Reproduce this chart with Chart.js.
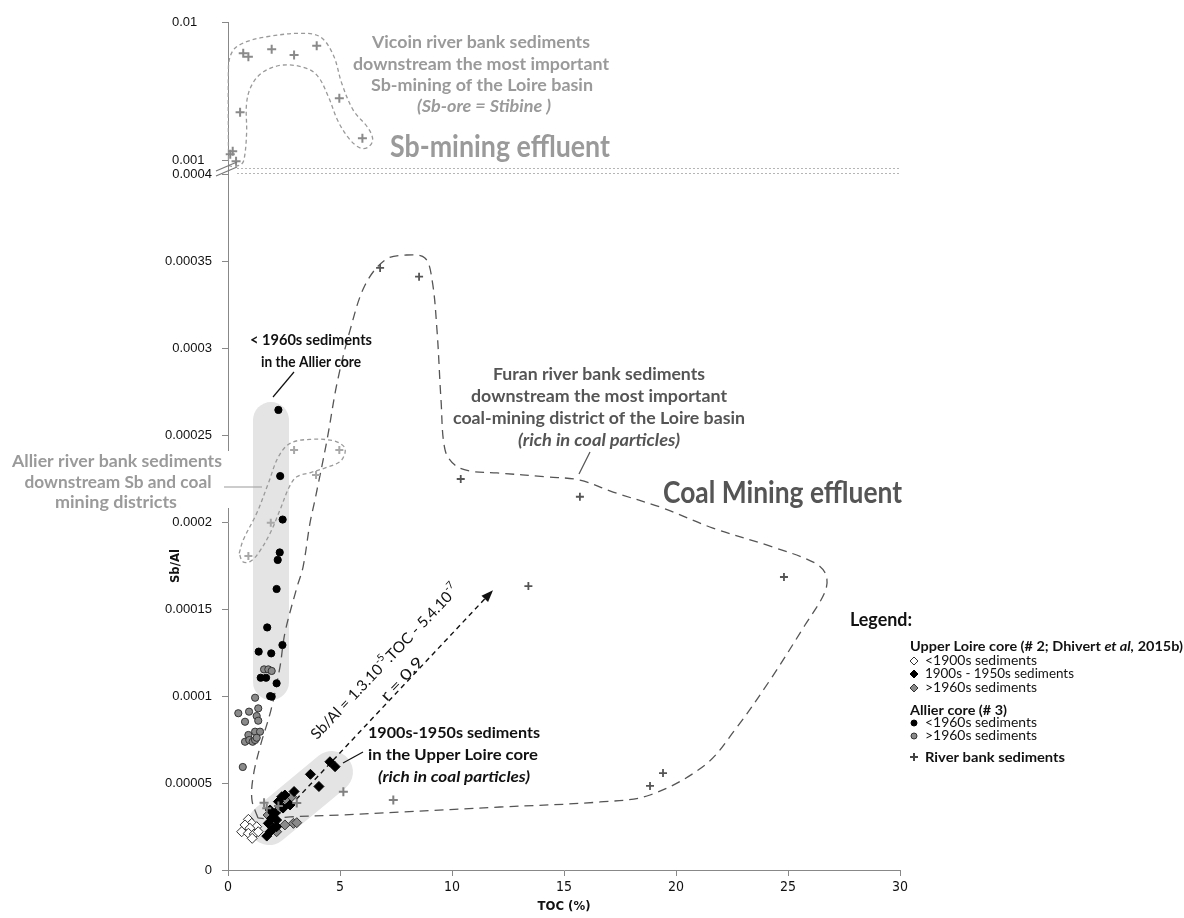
<!DOCTYPE html>
<html lang="en">
<head>
<meta charset="UTF-8">
<title>Sb/Al vs TOC</title>
<script src="https://cdn.jsdelivr.net/npm/chart.js@4.4.1/dist/chart.umd.min.js"></script>
<style>
  * { box-sizing: border-box; margin: 0; padding: 0; }
  html, body { width: 1184px; height: 918px; overflow: hidden; background: #fff; }
</style>
</head>
<body>
<canvas id="chart" width="1184" height="918"></canvas>
<script>
// ticks
const xTicks = [0, 5, 10, 15, 20, 25, 30];
const yLowTicks = [0, 0.00005, 0.0001, 0.00015, 0.0002, 0.00025, 0.0003, 0.00035, 0.0004];
const yTopTicks = [0.001, 0.01];

// Upper Loire core (# 2) - [TOC %, Sb/Al]
const loirePre1900 = [[0.91,2.91e-5],[1.06,2.68e-5],[0.76,2.59e-5],[1.28,2.49e-5],[0.98,2.40e-5],[0.61,2.20e-5],[0.91,2.11e-5],[1.17,2.07e-5],[1.35,2.20e-5],[1.08,1.82e-5]];
const loire1900to1950 = [[4.55,6.22e-5],[4.78,5.94e-5],[3.68,5.50e-5],[4.06,4.80e-5],[2.95,4.51e-5],[2.54,4.31e-5],[2.40,4.21e-5],[2.25,3.93e-5],[2.77,3.74e-5],[2.46,3.56e-5],[1.88,3.45e-5],[2.10,3.26e-5],[1.95,2.97e-5],[2.17,2.87e-5],[1.80,2.68e-5],[2.17,2.49e-5],[2.02,2.40e-5],[1.88,2.20e-5],[1.73,1.95e-5]];
const loirePost1960 = [[2.62,4.02e-5],[2.84,4.21e-5],[2.32,3.55e-5],[1.95,3.16e-5],[1.79,3.16e-5],[2.05,2.87e-5],[2.54,2.59e-5],[2.92,2.68e-5],[3.07,2.72e-5],[2.17,2.20e-5]];

// Allier core (# 3)
const allierPre1960 = [[2.25,2.644e-4],[2.33,2.264e-4],[2.44,2.014e-4],[2.31,1.825e-4],[2.22,1.782e-4],[2.17,1.615e-4],[1.75,1.394e-4],[2.43,1.293e-4],[1.37,1.255e-4],[1.93,1.245e-4],[1.46,1.105e-4],[1.70,1.105e-4],[2.17,1.073e-4],[1.88,0.999e-4],[1.95,0.996e-4]];
const allierPost1960 = [[1.61,1.153e-4],[1.80,1.153e-4],[1.95,1.144e-4],[1.21,0.990e-4],[0.46,0.901e-4],[0.94,0.910e-4],[1.35,0.929e-4],[0.76,0.852e-4],[1.28,0.885e-4],[1.35,0.858e-4],[1.21,0.795e-4],[1.43,0.795e-4],[0.91,0.776e-4],[0.76,0.737e-4],[0.95,0.747e-4],[1.10,0.737e-4],[1.21,0.747e-4],[1.28,0.760e-4],[0.66,0.592e-4]];

// river bank sediments
const bankFuran = [[6.79,3.46e-4],[8.53,3.41e-4],[10.39,2.247e-4],[15.71,2.145e-4],[24.82,1.684e-4],[13.41,1.632e-4],[19.42,5.57e-5],[18.84,4.83e-5]];
const bankLoire = [[1.61,3.86e-5],[1.73,3.55e-5],[2.25,3.68e-5],[3.07,3.85e-5],[5.15,4.50e-5],[7.38,4.02e-5]];
const bankAllier = [[2.95,2.414e-4],[4.97,2.414e-4],[3.93,2.270e-4],[1.91,1.996e-4],[0.91,1.805e-4]];
const bankVicoin = [[0.68,5.93e-3],[0.91,5.61e-3],[1.95,6.34e-3],[2.95,5.77e-3],[3.96,6.73e-3],[0.54,2.22e-3],[4.97,2.80e-3],[6.0,1.44e-3],[0.21,1.16e-3],[0.10,1.10e-3],[0.36,0.98e-3]];

// hand-drawn envelopes (data units)
const envVicoin = [[0.02,1.00e-3],[0.02,4.74e-3],[0.24,6.27e-3],[0.83,7.2e-3],[1.73,7.82e-3],[3.21,8.28e-3],[4.11,7.82e-3],[4.70,5.77e-3],[5.08,3.59e-3],[5.59,2.30e-3],[6.26,1.70e-3],[6.46,1.40e-3],[6.26,1.24e-3],[5.92,1.22e-3],[5.45,1.40e-3],[4.92,1.90e-3],[4.48,2.88e-3],[4.03,4.01e-3],[3.51,4.62e-3],[2.47,4.88e-3],[1.58,4.36e-3],[1.06,3.49e-3],[0.83,2.58e-3],[0.83,1.56e-3],[0.71,1.0e-3],[0.54,0.92e-3],[0.09,0.905e-3],[0.02,1.00e-3]];
const envAllier = [[0.50,1.820e-4],[0.68,1.897e-4],[1.28,2.050e-4],[1.80,2.222e-4],[2.25,2.375e-4],[2.77,2.452e-4],[3.66,2.475e-4],[4.70,2.467e-4],[5.18,2.433e-4],[5.22,2.395e-4],[5.00,2.347e-4],[4.41,2.314e-4],[3.66,2.283e-4],[3.07,2.260e-4],[2.74,2.203e-4],[2.32,2.069e-4],[1.88,1.935e-4],[1.35,1.820e-4],[0.98,1.772e-4],[0.66,1.772e-4],[0.50,1.820e-4]];
const envCoal = [[1.34,2.99e-5],[1.07,4.02e-5],[1.12,5.34e-5],[1.43,7.07e-5],[1.92,9.20e-5],[2.32,1.167e-4],[2.54,1.362e-4],[3.08,1.626e-4],[3.35,1.741e-4],[3.66,1.994e-4],[3.88,2.126e-4],[4.42,2.471e-4],[4.87,2.799e-4],[5.45,3.103e-4],[6.12,3.362e-4],[7.01,3.506e-4],[7.90,3.534e-4],[8.79,3.517e-4],[9.11,3.391e-4],[9.33,3.103e-4],[9.51,2.701e-4],[9.69,2.414e-4],[10.13,2.327e-4],[10.80,2.293e-4],[12.01,2.282e-4],[14.24,2.259e-4],[15.71,2.241e-4],[17.19,2.172e-4],[19.42,2.080e-4],[21.65,1.965e-4],[24.33,1.856e-4],[26.21,1.764e-4],[26.70,1.695e-4],[26.65,1.598e-4],[25.76,1.408e-4],[24.20,1.092e-4],[22.63,0.805e-4],[21.29,0.603e-4],[18.84,0.431e-4],[16.61,0.391e-4],[12.14,0.362e-4],[7.68,0.333e-4],[5.00,0.316e-4],[2.77,0.305e-4],[1.88,0.293e-4],[1.34,2.99e-5]];

// regression arrow and shaded groups
const regression = [[2.77,3.68e-5],[11.77,1.60e-4]];
const shadeAllier = [[1.92,2.586e-4],[1.92,1.08e-4]];
const shadeLoire = [[1.83,2.64e-5],[4.64,5.63e-5]];

const pts = a => a.map(([x, y]) => ({ x, y }));
const ANN = 'Lato, "Open Sans", sans-serif';
const NARROW = '"Liberation Sans Narrow", "DejaVu Sans Condensed", "Liberation Sans", sans-serif';
const TICKFONT = '"Liberation Sans", Arial, sans-serif';

function richText(ctx, segs, x, y, w, align, color, angle) {
  ctx.save();
  let nat = 0;
  segs.forEach(s => { ctx.font = s.f; s.w = ctx.measureText(s.t).width; nat += s.w; });
  const k = w ? w / nat : 1;
  ctx.translate(x, y);
  if (angle) ctx.rotate(angle);
  ctx.scale(k, 1);
  let x0 = align === 'left' ? 0 : -nat / 2;
  ctx.textBaseline = 'middle';
  ctx.textAlign = 'left';
  ctx.fillStyle = color;
  segs.forEach(s => { ctx.font = s.f; ctx.fillText(s.t, x0, s.dy || 0); x0 += s.w; });
  ctx.restore();
}
const B = sz => `bold ${sz}px ${ANN}`;
const BI = sz => `italic bold ${sz}px ${ANN}`;
const R = sz => `${sz}px ${ANN}`;

// annotation texts: [segments, x, y, width, align, colour]
const labels = [
  [[{t:'Vicoin river bank sediments', f:B(17)}], 481, 43, 218, 'c', '#9a9a9a'],
  [[{t:'downstream the most important', f:B(17)}], 481, 65, 256, 'c', '#9a9a9a'],
  [[{t:'Sb-mining of the Loire basin', f:B(17)}], 482, 86, 222, 'c', '#9a9a9a'],
  [[{t:'(Sb-ore = Stibine )', f:BI(17)}], 484, 107, 134, 'c', '#9a9a9a'],
  [[{t:'Sb-mining effluent', f:B(30)}], 500, 147, 220, 'c', '#9a9a9a'],
  [[{t:'Furan river bank sediments', f:B(17)}], 599, 375, 212, 'c', '#555'],
  [[{t:'downstream the most important', f:B(17)}], 599, 397, 256, 'c', '#555'],
  [[{t:'coal-mining district of the Loire basin', f:B(17)}], 599, 419, 292, 'c', '#555'],
  [[{t:'(rich in coal particles)', f:BI(17)}], 599, 441, 162, 'c', '#555'],
  [[{t:'Coal Mining effluent', f:B(30)}], 663, 493, 239, 'left', '#555'],
  [[{t:'Allier river bank sediments', f:B(17)}], 117, 462, 210, 'c', '#9a9a9a'],
  [[{t:'downstream Sb and coal', f:B(17)}], 118, 483, 187, 'c', '#9a9a9a'],
  [[{t:'mining districts', f:B(17)}], 116, 503, 122, 'c', '#9a9a9a'],
  [[{t:'< 1960s sediments', f:B(16)}], 311, 340, 122, 'c', '#111'],
  [[{t:'in the Allier core', f:B(16)}], 311, 362, 100, 'c', '#111'],
  [[{t:'1900s-1950s sediments', f:B(16)}], 454, 733, 172, 'c', '#111'],
  [[{t:'in the Upper Loire core', f:B(16)}], 453, 755, 170, 'c', '#111'],
  [[{t:'(rich in coal particles)', f:BI(16)}], 454, 777, 152, 'c', '#111'],
  // legend
  [[{t:'Legend:', f:B(18)}], 850, 620, 62, 'left', '#111'],
  [[{t:'Upper Loire core (# 2; Dhivert ', f:B(14)}, {t:'et al,', f:BI(14)}, {t:' 2015b)', f:B(14)}], 910, 646, 273, 'left', '#111'],
  [[{t:'<1900s sediments', f:R(13)}], 925, 661, 112, 'left', '#111'],
  [[{t:'1900s - 1950s sediments', f:R(13)}], 925, 674, 149, 'left', '#111'],
  [[{t:'>1960s sediments', f:R(13)}], 925, 688, 112, 'left', '#111'],
  [[{t:'Allier core (# 3)', f:B(14)}], 910, 710, 97, 'left', '#111'],
  [[{t:'<1960s sediments', f:R(13)}], 925, 723, 112, 'left', '#111'],
  [[{t:'>1960s sediments', f:R(13)}], 925, 736, 112, 'left', '#111'],
  [[{t:'River bank sediments', f:B(14)}], 925, 757, 140, 'left', '#111']
];

// legend markers: [style, fill, stroke, radius, x, y]
const legendMarks = [
  ['rectRot', '#fff', '#333', 4, 914, 661],
  ['rectRot', '#000', '#000', 4, 914, 674],
  ['rectRot', '#8a8a8a', '#333', 4, 914, 688],
  ['circle', '#000', '#000', 3, 914, 723],
  ['circle', '#8a8a8a', '#333', 3, 914, 736],
  ['cross', '#444', '#444', 4, 914, 757]
];

const decor = {
  id: 'decor',
  beforeDatasetsDraw(chart) {
    const { ctx, scales } = chart;
    const capsule = (seg, width) => {
      ctx.save();
      ctx.strokeStyle = '#e4e4e4';
      ctx.lineWidth = width;
      ctx.lineCap = 'round';
      ctx.beginPath();
      ctx.moveTo(scales.x.getPixelForValue(seg[0][0]), scales.y.getPixelForValue(seg[0][1]));
      ctx.lineTo(scales.x.getPixelForValue(seg[1][0]), scales.y.getPixelForValue(seg[1][1]));
      ctx.stroke();
      ctx.restore();
    };
    capsule(shadeAllier, 36);
    capsule(shadeLoire, 42);
  },
  afterDatasetsDraw(chart) {
    const { ctx, scales, chartArea } = chart;
    const yb = scales.y.top;
    const ax = chartArea.left;

    // labels of the log part, left aligned like the original
    ctx.save();
    ctx.font = `13px ${TICKFONT}`;
    ctx.fillStyle = '#111';
    ctx.textAlign = 'left';
    ctx.textBaseline = 'middle';
    yTopTicks.forEach(v => ctx.fillText(String(v), 172, scales.yTop.getPixelForValue(v)));
    ctx.restore();

    // arrow head of the regression
    const p0 = { x: scales.x.getPixelForValue(regression[0][0]), y: scales.y.getPixelForValue(regression[0][1]) };
    const p1 = { x: scales.x.getPixelForValue(regression[1][0]), y: scales.y.getPixelForValue(regression[1][1]) };
    const a = Math.atan2(p1.y - p0.y, p1.x - p0.x);
    ctx.save();
    ctx.translate(p1.x, p1.y);
    ctx.rotate(a);
    ctx.fillStyle = '#111';
    ctx.beginPath();
    ctx.moveTo(2, 0); ctx.lineTo(-10, -4.5); ctx.lineTo(-10, 4.5); ctx.closePath();
    ctx.fill();
    ctx.restore();

    // axis break: double dotted line + slashes
    ctx.save();
    ctx.strokeStyle = '#b5b5b5';
    ctx.lineWidth = 1;
    ctx.setLineDash([2, 2]);
    [yb - 6, yb - 1].forEach(y => {
      ctx.beginPath(); ctx.moveTo(ax + 9, y + 0.5); ctx.lineTo(chartArea.right, y + 0.5); ctx.stroke();
    });
    ctx.setLineDash([]);
    ctx.strokeStyle = '#777';
    ctx.lineWidth = 1.2;
    [[yb - 3, yb - 12], [yb + 2, yb - 7]].forEach(([y1, y2]) => {
      ctx.beginPath(); ctx.moveTo(ax - 12, y1); ctx.lineTo(ax + 9, y2); ctx.stroke();
    });
    // white box behind the Allier bank label
    ctx.fillStyle = '#fff';
    ctx.fillRect(ax - 4, 451, 8, 57);
    ctx.restore();

    // leader lines
    const lead = (x1, y1, x2, y2, c) => {
      ctx.save(); ctx.strokeStyle = c; ctx.lineWidth = 1.2;
      ctx.beginPath(); ctx.moveTo(x1, y1); ctx.lineTo(x2, y2); ctx.stroke(); ctx.restore();
    };
    lead(273, 397, 294, 372, '#111');
    lead(224, 487, 262, 487, '#9a9a9a');
    lead(590, 452, 579, 474, '#555');
    lead(343, 763, 363, 752, '#111');

    labels.forEach(([segs, x, y, w, al, c]) => richText(ctx, segs, x, y, w, al, c));

    // regression equation, rotated
    const ang = -46.3 * Math.PI / 180;
    richText(ctx, [
      {t:'Sb/Al = 1.3.10', f:R(15)}, {t:'-5', f:R(10), dy:-6},
      {t:'.TOC - 5.4.10', f:R(15)}, {t:'-7', f:R(10), dy:-6}
    ], 385, 662, 207, 'c', '#111', ang);
    richText(ctx, [{t:'r = 0.9', f:R(15)}], 402, 679, 54, 'c', '#111', ang);

    // axis titles
    richText(ctx, [{t:'TOC (%)', f:`bold 13px ${NARROW}`}], (chartArea.left + chartArea.right) / 2, 907, 0, 'c', '#111');
    richText(ctx, [{t:'Sb/Al', f:`bold 13px ${NARROW}`}], 176, 566, 0, 'c', '#111', -Math.PI / 2);

    // legend markers
    legendMarks.forEach(([style, fill, stroke, r, x, y]) => {
      ctx.save();
      ctx.fillStyle = fill; ctx.strokeStyle = stroke;
      ctx.lineWidth = style === 'cross' ? 2 : 1;
      Chart.helpers.drawPoint(ctx, { pointStyle: style, radius: r, rotation: 0, borderWidth: ctx.lineWidth }, x, y);
      ctx.restore();
    });
  }
};

const envelope = (data, color, dash, axis, order) => ({
  data: pts(data), yAxisID: axis, showLine: true, borderColor: color, borderWidth: 1.3,
  borderDash: dash, tension: 0.35, pointRadius: 0, fill: false, clip: false, order
});
const marks = (data, style, fill, stroke, r, bw, axis, order) => ({
  data: pts(data), yAxisID: axis, pointStyle: style, pointRadius: r, backgroundColor: fill,
  borderColor: stroke, pointBorderWidth: bw, borderWidth: bw, showLine: false, clip: false, order
});

new Chart(document.getElementById('chart'), {
  type: 'scatter',
  data: {
    datasets: [
      envelope(envVicoin, '#9a9a9a', [4, 3], 'yTop', 20),
      envelope(envAllier, '#9a9a9a', [4, 3], 'y', 20),
      envelope(envCoal, '#555', [9, 6], 'y', 20),
      { data: pts(regression), yAxisID: 'y', showLine: true, borderColor: '#111', borderWidth: 1.4,
        borderDash: [5, 4], pointRadius: 0, fill: false, order: 15 },
      marks(bankVicoin, 'cross', '#8a8a8a', '#8a8a8a', 4.5, 2, 'yTop', 5),
      marks(bankAllier, 'cross', '#a8a8a8', '#a8a8a8', 4, 2, 'y', 5),
      marks(bankFuran, 'cross', '#555', '#555', 4, 1.8, 'y', 5),
      marks(allierPost1960, 'circle', '#8a8a8a', '#333', 3.6, 1, 'y', 4),
      marks(allierPre1960, 'circle', '#000', '#000', 3.6, 1, 'y', 3),
      marks(loirePre1900, 'rectRot', '#fff', '#333', 5, 1, 'y', 2),
      marks(loirePost1960, 'rectRot', '#8a8a8a', '#333', 5, 1, 'y', 2),
      marks(loire1900to1950, 'rectRot', '#000', '#000', 5, 1, 'y', 1),
      marks(bankLoire, 'cross', '#808080', '#808080', 4.5, 2, 'y', 0)
    ]
  },
  options: {
    responsive: false,
    animation: false,
    events: [],
    layout: { padding: { left: 140, right: 284, top: 22, bottom: 0 } },
    plugins: { legend: { display: false }, tooltip: { enabled: false } },
    scales: {
      x: {
        type: 'linear', min: 0, max: 30,
        afterBuildTicks: s => { s.ticks = xTicks.map(value => ({ value })); },
        afterFit: s => { s.height = 48; },
        ticks: { color: '#111', padding: 3, font: { family: NARROW, size: 14 } },
        grid: { drawOnChartArea: false, tickLength: 6, color: '#888' },
        border: { color: '#888', width: 1 }
      },
      y: {
        type: 'linear', position: 'left', stack: 'sb', stackWeight: 696,
        min: 0, max: 0.0004,
        afterBuildTicks: s => { s.ticks = yLowTicks.map(value => ({ value })); },
        afterFit: s => { s.width = 88; },
        ticks: { color: '#111', padding: 10, font: { family: TICKFONT, size: 13 },
          callback: v => v === 0 ? '0' : String(+v.toFixed(5)) },
        grid: { drawOnChartArea: false, tickLength: 6, color: '#888' },
        border: { color: '#888', width: 1 }
      },
      yTop: {
        type: 'logarithmic', position: 'left', stack: 'sb', stackWeight: 152,
        min: 0.000792, max: 0.01,
        afterBuildTicks: s => { s.ticks = yTopTicks.map(value => ({ value })); },
        afterFit: s => { s.width = 88; },
        ticks: { display: false },
        grid: { drawOnChartArea: false, tickLength: 6, color: '#888' },
        border: { color: '#888', width: 1 }
      }
    }
  },
  plugins: [decor]
});
</script>
</body>
</html>
